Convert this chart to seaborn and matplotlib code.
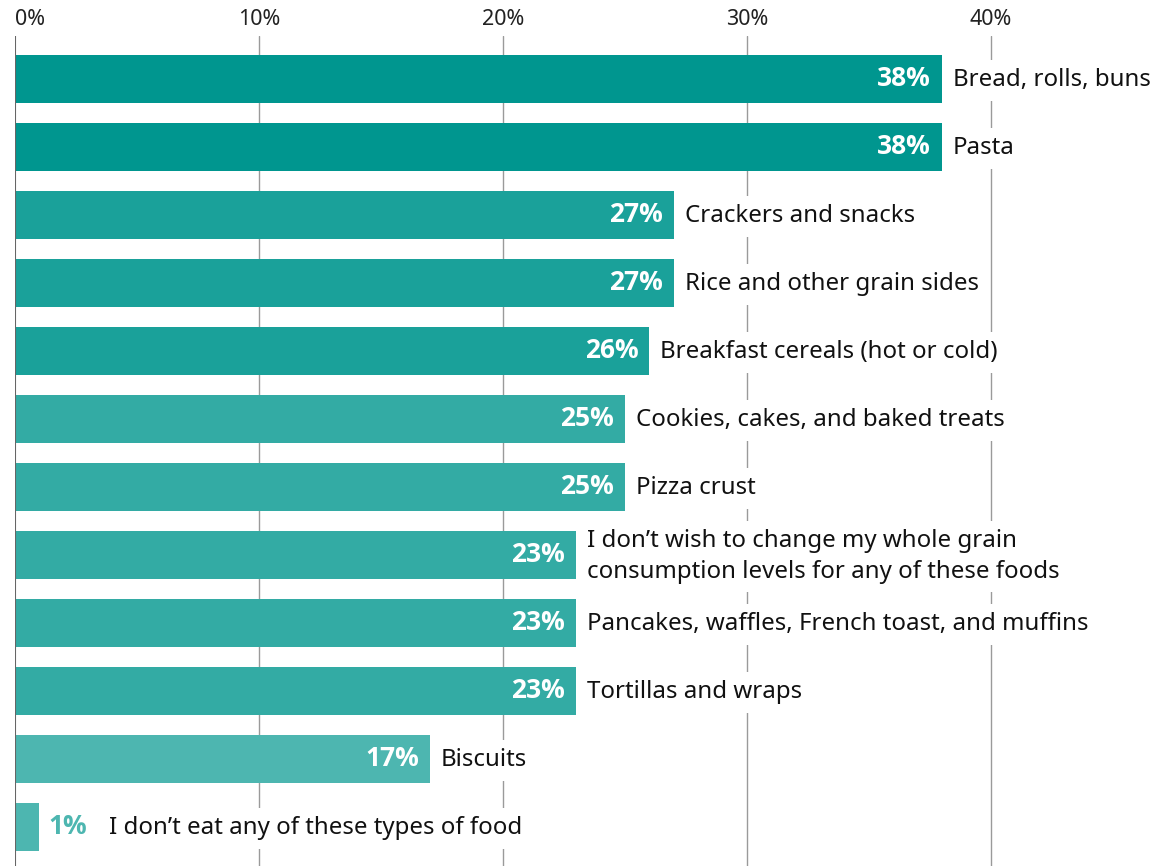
import matplotlib
matplotlib.use("Agg")
import matplotlib.pyplot as plt
import seaborn as sns
import pandas as pd

categories = [
    "Bread, rolls, buns",
    "Pasta",
    "Crackers and snacks",
    "Rice and other grain sides",
    "Breakfast cereals (hot or cold)",
    "Cookies, cakes, and baked treats",
    "Pizza crust",
    "I don\u2019t wish to change my whole grain\nconsumption levels for any of these foods",
    "Pancakes, waffles, French toast, and muffins",
    "Tortillas and wraps",
    "Biscuits",
    "I don\u2019t eat any of these types of food",
]
values = [38, 38, 27, 27, 26, 25, 25, 23, 23, 23, 17, 1]
bar_colors = ["#00968F", "#00968F", "#1AA19A", "#1AA19A", "#1AA19A",
              "#33ABA4", "#33ABA4", "#33ABA4", "#33ABA4", "#33ABA4",
              "#4DB6B0", "#4DB6B0"]
tick_values = [0, 10, 20, 30, 40]
tick_labels = ["0%", "10%", "20%", "30%", "40%"]

sns.set_theme(style="white")
plt.rcParams["font.family"] = ["Noto Sans", "DejaVu Sans"]

df = pd.DataFrame({"category": categories, "value": values})

fig = plt.figure(figsize=(11.58, 8.66), dpi=100)
ax = fig.add_axes([15 / 1158, 0, 1 - 15 / 1158, (866 - 36) / 866])

sns.barplot(data=df, x="value", y="category", hue="category",
            palette=dict(zip(categories, bar_colors)), legend=False,
            orient="h", width=0.706, ax=ax, zorder=3, linewidth=0,
            saturation=1)

ax.set_xlim(0, 46.85)
ax.set_ylim(11.574, -0.632)
ax.set_xticks(tick_values)
ax.set_xticklabels(tick_labels, fontsize=15.5, color="#222222")
ax.xaxis.tick_top()
ax.tick_params(axis="x", length=0, pad=4)
ax.set_yticks([])
ax.set_xlabel("")
ax.set_ylabel("")
for s in ax.spines.values():
    s.set_visible(False)
for t in ax.get_xticklabels():
    if t.get_text() == "0%":
        t.set_horizontalalignment("left")

for x in tick_values[1:]:
    ax.axvline(x, color="#9a9a9a", lw=1, zorder=1)
ax.axvline(0, color="#666666", lw=1.5, zorder=4)

bold_family = ["Open Sans", "Lato", "DejaVu Sans"]
px = 46.85 / (1158 - 15)  # data units per pixel
for i, (cat, v, c) in enumerate(zip(categories, values, bar_colors)):
    if v >= 5:
        ax.text(v - 11 * px, i + 0.0, f"{v}%", ha="right", va="center", color="white",
                fontsize=19, fontweight="bold", family=bold_family, zorder=5)
        lx = v + 11 * px
    else:
        ax.text(v + 9 * px, i + 0.0, f"{v}%", ha="left", va="center", color=c,
                fontsize=19, fontweight="bold", family=bold_family, zorder=5)
        lx = v + 70 * px
    ax.text(lx, i + 0.02, cat, ha="left", va="center", color="#111111", fontsize=17.3,
            linespacing=1.36, zorder=5,
            bbox=dict(boxstyle="square,pad=0.35", fc="white", ec="none"))

fig.savefig("out.png", dpi=100)
